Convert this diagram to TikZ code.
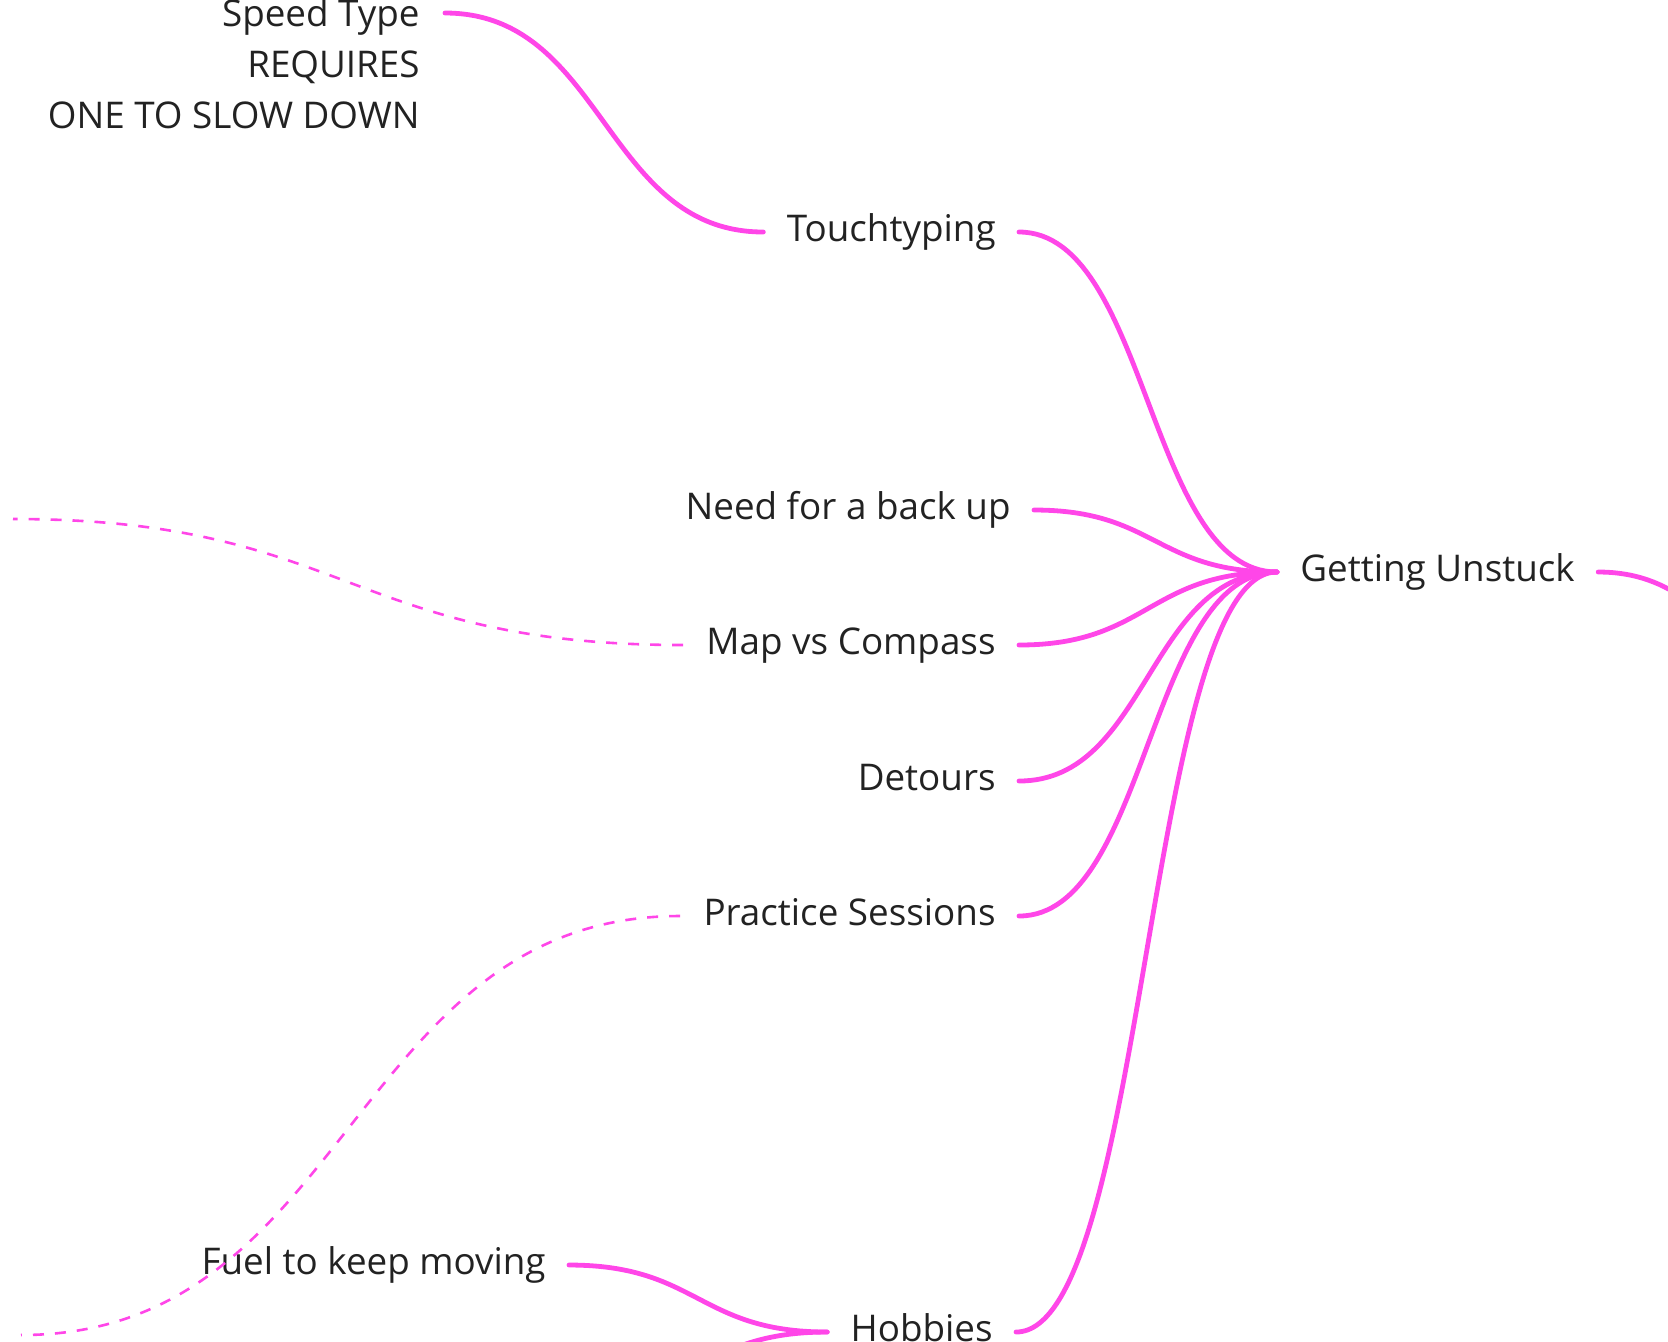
\documentclass[tikz,border=0pt]{standalone}
\usepackage{fontspec}
\setmainfont{Open Sans}
\usetikzlibrary{calc}
\definecolor{mmpink}{RGB}{255,70,232}
\definecolor{mmtext}{RGB}{34,34,34}
\begin{document}
\begin{tikzpicture}[x=0.5pt,y=-0.5pt,
  mmfont/.style={text=mmtext, font=\fontsize{18.4pt}{25.5pt}\selectfont},
  topic/.style={mmfont, inner xsep=11.5pt, inner ysep=0pt, text height=13.8pt, text depth=4.6pt},
  link/.style={draw=mmpink, line width=2.4pt, line cap=round},
  xlink/.style={draw=mmpink, line width=1.3pt, dash pattern=on 5.5pt off 5.5pt},
  scurve/.style={to path={let \p1=(\tikztostart), \p2=(\tikztotarget), \p3=($(\tikztostart)!0.5!(\tikztotarget)$) in .. controls (\x3,\y1) and (\x3,\y2) .. (\tikztotarget) \tikztonodes}},
]
\useasboundingbox (0,0) rectangle (1668,1341);
\clip (0,0) rectangle (1668,1341);

% nodes
\node[topic, anchor=west] (hub) at (1277,572) {Getting Unstuck};
\node[topic, anchor=east] (touch) at (1019,232) {Touchtyping};
\node[topic, anchor=east] (need) at (1034,510) {Need for a back up};
\node[topic, anchor=east] (map) at (1019,645) {Map vs Compass};
\node[topic, anchor=east] (detours) at (1019,781) {Detours};
\node[topic, anchor=east] (practice) at (1019,916) {Practice Sessions};
\node[topic, anchor=east] (hobbies) at (1016,1332) {Hobbies};
\node[topic, anchor=east] (fuel) at (569,1265) {Fuel to keep moving};
\node[mmfont, align=right, anchor=north east, inner xsep=11.5pt, inner ysep=0pt] (speed) at (443,-2) {Speed Type\\REQUIRES\\ONE TO SLOW DOWN};

% free ends
\coordinate (speedc) at ([xshift=1pt,yshift=-7.5pt]speed.north east);
\coordinate (hubpar) at (1900,760);
\coordinate (mapfar) at (13,519);
\coordinate (pracfar) at (21,1335);
\coordinate (hobfar) at (569,1399);

% connectors
\draw[link] (hub.east) to[scurve] (hubpar);
\draw[link] (touch.east) to[scurve] (hub.west);
\draw[link] (need.east) to[scurve] (hub.west);
\draw[link] (map.east) to[scurve] (hub.west);
\draw[link] (detours.east) to[scurve] (hub.west);
\draw[link] (practice.east) to[scurve] (hub.west);
\draw[link] (hobbies.east) to[scurve] (hub.west);
\draw[link] (touch.west) to[scurve] (speedc);
\draw[link] (hobbies.west) to[scurve] (fuel.east);
\draw[link] (hobbies.west) to[scurve] (hobfar);
\draw[xlink] (map.west) to[scurve] (mapfar);
\draw[xlink] (practice.west) to[scurve] (pracfar);
\end{tikzpicture}
\end{document}
